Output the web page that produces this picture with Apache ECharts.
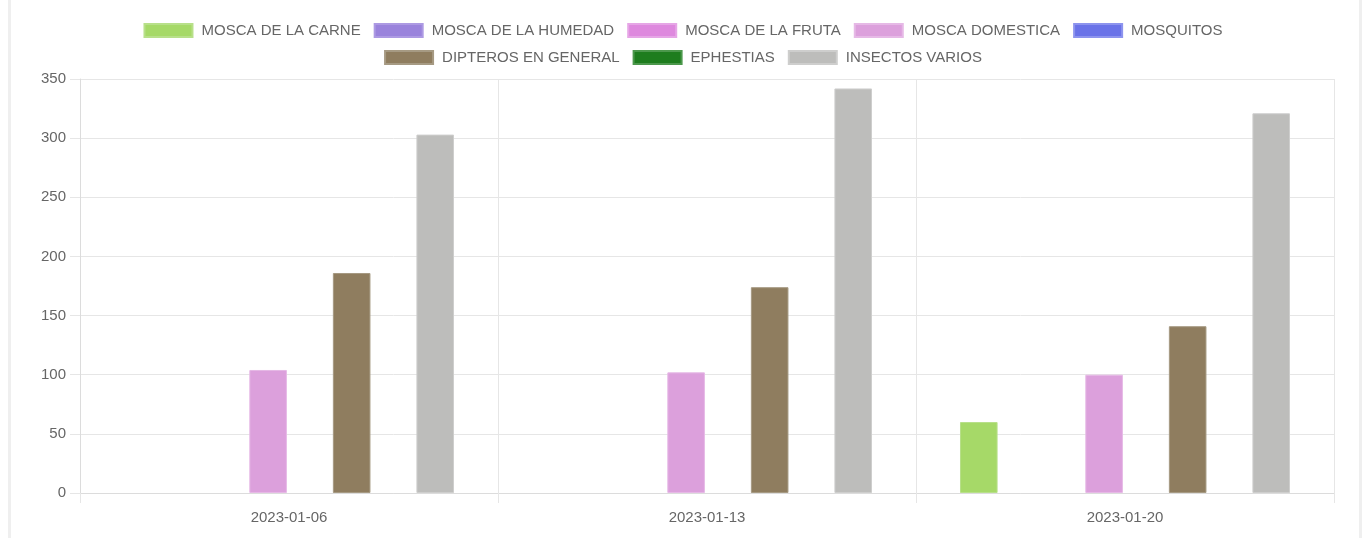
<!DOCTYPE html>
<html>
<head>
<meta charset="utf-8">
<script src="https://cdn.jsdelivr.net/npm/echarts@6/dist/echarts.min.js"></script>
<style>
  html, body { margin: 0; padding: 0; background: #fff; }
  #wrap { position: relative; width: 1366px; height: 538px; }
  .edge { position: absolute; top: 0; width: 3px; height: 538px; background: #efefef; }
  #chart { position: absolute; left: 0; top: 0; width: 1366px; height: 538px; }
</style>
</head>
<body>
<div id="wrap">
  <div class="edge" style="left:8px"></div>
  <div class="edge" style="left:1359px"></div>
  <div id="chart"></div>
</div>
<script>
const categories = ['2023-01-06', '2023-01-13', '2023-01-20'];
const seriesNames = ['MOSCA DE LA CARNE', 'MOSCA DE LA HUMEDAD', 'MOSCA DE LA FRUTA', 'MOSCA DOMESTICA', 'MOSQUITOS', 'DIPTEROS EN GENERAL', 'EPHESTIAS', 'INSECTOS VARIOS'];
const moscaCarne = [0, 0, 60];
const moscaHumedad = [0, 0, 0];
const moscaFruta = [0, 0, 0];
const moscaDomestica = [104, 102, 100];
const mosquitos = [0, 0, 0];
const dipterosGeneral = [186, 174, 141];
const ephestias = [0, 0, 0];
const insectosVarios = [303, 342, 321];
const yTicks = [0, 50, 100, 150, 200, 250, 300, 350];

const values = [moscaCarne, moscaHumedad, moscaFruta, moscaDomestica, mosquitos, dipterosGeneral, ephestias, insectosVarios];
const fills = ['#a6d968', '#9a83dc', '#de89de', '#dca0dc', '#6a73e8', '#8f7d5f', '#1e7d1e', '#bdbdbb'];
const borders = ['#b8e08a', '#ad9ae3', '#e6a6e6', '#e6b9e6', '#8d94ee', '#a69a83', '#4c984c', '#cececd'];

const chart = echarts.init(document.getElementById('chart'), null, { renderer: 'canvas' });
const font = 'Liberation Sans, Arial, Helvetica, sans-serif';
const gridColor = '#e6e6e6';

const legendBase = {
  left: 'center',
  itemWidth: 48, itemHeight: 13, itemGap: 13,
  icon: 'rect',
  textStyle: { fontSize: 15, color: '#666', fontFamily: font, padding: [0, 0, 0, 4] }
};

chart.setOption({
  animation: false,
  color: fills,
  textStyle: { fontFamily: font },
  legend: [
    Object.assign({}, legendBase, { data: seriesNames.slice(0, 5), top: 18 }),
    Object.assign({}, legendBase, { data: seriesNames.slice(5), top: 45 })
  ],
  grid: { left: 80, right: 32, top: 79, bottom: 45, containLabel: false },
  xAxis: {
    type: 'category',
    data: categories,
    axisLine: { show: true, lineStyle: { color: '#dcdcdc', width: 1 } },
    axisTick: { show: true, length: 10, lineStyle: { color: gridColor } },
    axisLabel: { color: '#666', fontSize: 15, margin: 17, fontFamily: font },
    splitLine: { show: true, lineStyle: { color: gridColor } }
  },
  yAxis: {
    type: 'value',
    min: 0, max: 350, interval: 50,
    axisLine: { show: true, lineStyle: { color: '#dcdcdc', width: 1 } },
    axisTick: { show: true, length: 10, lineStyle: { color: gridColor } },
    axisLabel: {
      color: '#666', fontSize: 15, margin: 14, fontFamily: font,
      formatter: v => (yTicks.indexOf(v) >= 0 ? String(v) : '')
    },
    splitLine: { show: true, lineStyle: { color: gridColor } }
  },
  series: seriesNames.map((name, i) => ({
    name: name,
    type: 'bar',
    data: values[i].map(v => v === 0 ? { value: 0, itemStyle: { opacity: 0 } } : v),
    barWidth: 37.6,
    barGap: '11.1%',
    itemStyle: { color: fills[i], borderColor: borders[i], borderWidth: 1 }
  }))
});
</script>
</body>
</html>
